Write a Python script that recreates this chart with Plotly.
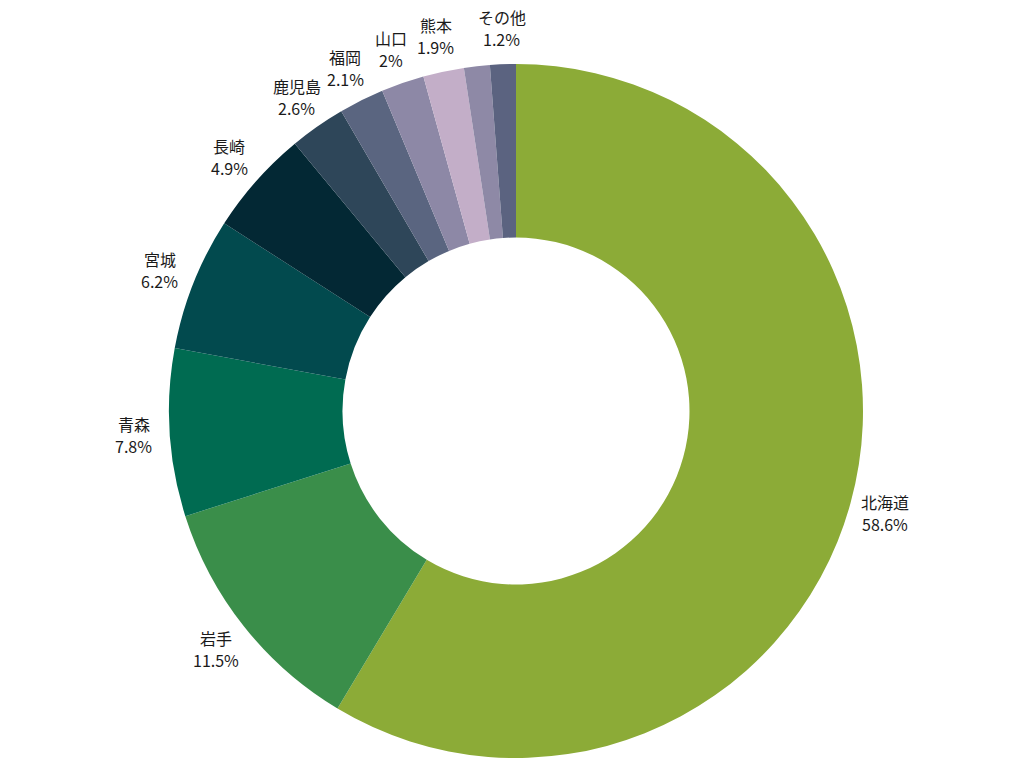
import math
import plotly.graph_objects as go

labels = ["北海道", "岩手", "青森", "宮城", "長崎", "鹿児島", "福岡", "山口", "熊本", "その他(未表示)", "その他"]
values = [58.6, 11.5, 7.8, 6.2, 4.9, 2.6, 2.1, 2.0, 1.9, 1.2, 1.2]
pct_text = ["58.6%", "11.5%", "7.8%", "6.2%", "4.9%", "2.6%", "2.1%", "2%", "1.9%", "1.2%", "1.2%"]
show_label = [True, True, True, True, True, True, True, True, True, False, True]
colors = ["#8CAB37", "#3A8E4A", "#006B51", "#024A4E", "#032834", "#2E4659",
          "#5A6580", "#8D88A6", "#C3AEC8", "#8E89A6", "#5B6380"]

W, H = 1024, 768
ML, MR, MT, MB = 8, 0, 64, 10
PW, PH = W - ML - MR, H - MT - MB
label_r = 1.104  # label centre distance relative to outer radius
line_gap = 11.0  # half distance between the two label lines, px

fig = go.Figure(go.Pie(
    labels=labels,
    values=values,
    textinfo="none",
    hole=0.5,
    sort=False,
    direction="clockwise",
    rotation=0,
    marker=dict(colors=colors, line=dict(width=0)),
    showlegend=False,
))

font = dict(family="Noto Sans CJK JP", size=16, color="#1a1a1a")

# place labels at the middle angle of each slice, just outside the ring
total = sum(values)
cum = 0.0
radius_px = min(PW, PH) / 2
for lab, val, pct, show in zip(labels, values, pct_text, show_label):
    mid = (cum + val / 2) / total * 2 * math.pi
    cum += val
    if not show:
        continue
    dx = radius_px * label_r * math.sin(mid)
    dy = radius_px * label_r * math.cos(mid)
    for txt, off in ((lab, line_gap), (pct, -line_gap)):
        fig.add_annotation(
            x=0.5 + dx / PW, y=0.5 + (dy + off) / PH,
            xref="paper", yref="paper",
            text=txt,
            showarrow=False,
            xanchor="center", yanchor="middle",
            borderpad=0,
            font=font,
        )

fig.update_layout(
    width=W, height=H,
    margin=dict(l=ML, r=MR, t=MT, b=MB),
    paper_bgcolor="white",
    plot_bgcolor="white",
)

fig.write_html("out.html")
